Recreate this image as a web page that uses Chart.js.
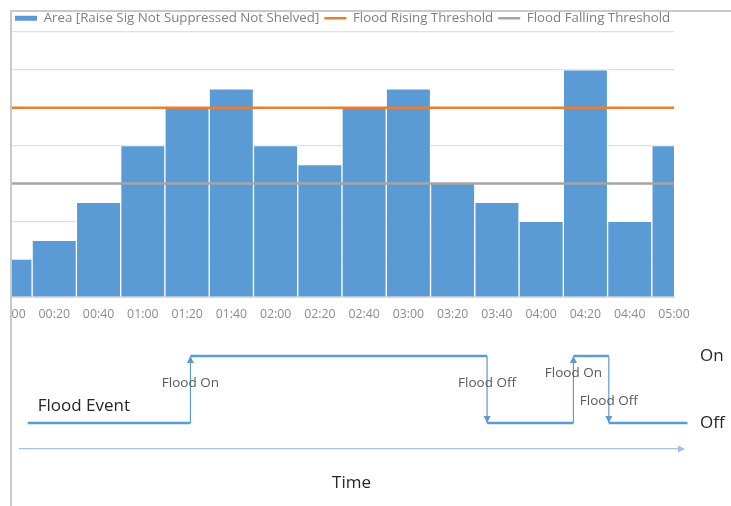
<!DOCTYPE html>
<html lang="en">
<head>
<meta charset="UTF-8">
<title>Flood event</title>
<script src="https://cdn.jsdelivr.net/npm/chart.js"></script>
<style>
  *{margin:0;padding:0;box-sizing:border-box;}
  html,body{width:731px;height:506px;overflow:hidden;background:#fff;}
  #topBox{position:absolute;left:0;top:0;width:731px;height:330px;}
  #bottomBox{position:absolute;left:0;top:330px;width:731px;height:176px;}
  /* grey frame round the picture, white outside it */
  .frame{position:absolute;left:10px;top:10px;width:800px;height:600px;border-top:2px solid #c9c9c9;border-left:2px solid #c9c9c9;box-shadow:0 0 0 24px #fff;pointer-events:none;}
</style>
</head>
<body>
<div id="topBox"><canvas id="areaChart"></canvas></div>
<div id="bottomBox"><canvas id="eventChart"></canvas></div>
<div class="frame"></div>

<script>
// ---- data ----
const timeLabels = ['00:00','00:20','00:40','01:00','01:20','01:40','02:00','02:20',
                    '02:40','03:00','03:20','03:40','04:00','04:20','04:40','05:00'];
const areaValues = [1, 1.5, 2.5, 4, 5, 5.5, 4, 3.5, 5, 5.5, 3, 2.5, 2, 6, 2, 4];
const risingThreshold = 5;
const fallingThreshold = 3;

// flood event timeline, minutes from 00:00
const eventStart = 8;
const eventEnd = 306;
const floodOnAt = [81.5, 254.5];
const floodOffAt = [215.5, 270.5];
const onLabelLevel = [0.6, 0.75];
const offLabelLevel = [0.6, 0.33];
const eventLabelAt = [12.5, 0.25];

const BLUE = '#5b9bd5', ORANGE = '#ed7d31', GREY = '#a5a5a5';
Chart.defaults.font.family = "'Open Sans', sans-serif";

// fixed legend height so the plot top sits where it should
const legendHeight = {
  id: 'legendHeight',
  beforeInit(chart) {
    const fit = chart.legend.fit;
    chart.legend.fit = function () { fit.call(this); this.height = 25.5; };
  }
};

new Chart(document.getElementById('areaChart'), {
  data: {
    labels: timeLabels,
    datasets: [
      {type: 'bar', label: 'Area [Raise Sig Not Suppressed Not Shelved]', data: areaValues,
       backgroundColor: BLUE, borderColor: 'rgba(255,255,255,0.75)', borderWidth: 1,
       barPercentage: 1, categoryPercentage: 1, order: 1},
      {type: 'line', label: 'Flood Rising Threshold', data: timeLabels.map(() => risingThreshold),
       borderColor: ORANGE, backgroundColor: ORANGE, borderWidth: 2.5, pointRadius: 0, order: 0},
      {type: 'line', label: 'Flood Falling Threshold', data: timeLabels.map(() => fallingThreshold),
       borderColor: GREY, backgroundColor: GREY, borderWidth: 2.5, pointRadius: 0, order: 0}
    ]
  },
  options: {
    responsive: true, maintainAspectRatio: false, animation: false, events: [],
    layout: {padding: {left: 10, right: 0, top: 6.5, bottom: 0}},
    plugins: {
      tooltip: {enabled: false},
      legend: {
        position: 'top', align: 'start',
        labels: {
          color: '#7f7f7f', font: {size: 13.3}, padding: 5,
          usePointStyle: true, pointStyleWidth: 22, boxHeight: 5,
          sort: (a, b) => a.datasetIndex - b.datasetIndex,
          generateLabels(chart) {
            const items = Chart.defaults.plugins.legend.labels.generateLabels(chart);
            items.forEach(it => {
              const ds = chart.data.datasets[it.datasetIndex];
              if (ds.type === 'bar') {
                it.pointStyle = 'rect'; it.lineWidth = 0; it.strokeStyle = ds.backgroundColor;
              } else {
                it.pointStyle = 'line'; it.lineWidth = 2.5; it.strokeStyle = ds.borderColor;
              }
            });
            return items;
          }
        }
      }
    },
    scales: {
      x: {
        offset: false,
        grid: {display: false, drawTicks: false},
        border: {color: '#d9d9d9'},
        ticks: {color: '#8c8c8c', font: {size: 12.3}, padding: 10, maxRotation: 0, autoSkip: false},
        // plot ends at 05:00, leaving the right margin empty
        afterFit(s) { s.paddingLeft = 0; s.paddingRight = 57; s.height = 33; }
      },
      y: {
        min: 0, max: 7,
        ticks: {display: false, stepSize: 1},
        grid: {color: '#e0e0e0', lineWidth: 1.2, drawTicks: false},
        border: {display: false}
      }
    }
  },
  plugins: [legendHeight]
});

// ---- flood event timeline ----
const stepPoints = [{x: eventStart, y: 0}];
floodOnAt.forEach((t, i) => {
  stepPoints.push({x: t, y: 0}, {x: t, y: 1}, {x: floodOffAt[i], y: 1}, {x: floodOffAt[i], y: 0});
});
stepPoints.push({x: eventEnd, y: 0});

function arrowHead(ctx, x, y, dir) {
  ctx.beginPath();
  if (dir === 'up') { ctx.moveTo(x, y); ctx.lineTo(x - 3.5, y + 7); ctx.lineTo(x + 3.5, y + 7); }
  else if (dir === 'down') { ctx.moveTo(x, y); ctx.lineTo(x - 3.5, y - 7); ctx.lineTo(x + 3.5, y - 7); }
  else { ctx.moveTo(x + 2, y); ctx.lineTo(x - 5, y - 3.5); ctx.lineTo(x - 5, y + 3.5); }
  ctx.closePath();
  ctx.fill();
}

const eventMarks = {
  id: 'eventMarks',
  afterDatasetsDraw(chart) {
    const {ctx, chartArea, scales: {x, y}} = chart;
    ctx.save();
    ctx.fillStyle = BLUE;
    floodOnAt.forEach(t => arrowHead(ctx, x.getPixelForValue(t), y.getPixelForValue(1), 'up'));
    floodOffAt.forEach(t => arrowHead(ctx, x.getPixelForValue(t), y.getPixelForValue(0), 'down'));
    ctx.fillStyle = '#9dc3e6';
    arrowHead(ctx, chartArea.right, chartArea.bottom, 'right');

    ctx.textAlign = 'center';
    ctx.textBaseline = 'middle';
    ctx.fillStyle = '#595959';
    ctx.font = "13.5px 'Open Sans', sans-serif";
    floodOnAt.forEach((t, i) => ctx.fillText('Flood On', x.getPixelForValue(t), y.getPixelForValue(onLabelLevel[i])));
    floodOffAt.forEach((t, i) => ctx.fillText('Flood Off', x.getPixelForValue(t), y.getPixelForValue(offLabelLevel[i])));

    ctx.textAlign = 'left';
    ctx.fillStyle = '#262626';
    ctx.font = "17px 'Open Sans', sans-serif";
    ctx.fillText('Flood Event', x.getPixelForValue(eventLabelAt[0]), y.getPixelForValue(eventLabelAt[1]));
    ctx.restore();
  }
};

new Chart(document.getElementById('eventChart'), {
  type: 'line',
  data: {
    datasets: [{
      label: 'Flood Event', data: stepPoints,
      borderColor: BLUE, borderWidth: 2.5, pointRadius: 0, clip: false,
      segment: {borderWidth: c => c.p0.parsed.x === c.p1.parsed.x ? 1.2 : 2.5}
    }]
  },
  options: {
    responsive: true, maintainAspectRatio: false, animation: false, events: [],
    layout: {padding: {left: 20, right: 0, top: 0, bottom: 12.6}},
    plugins: {legend: {display: false}, tooltip: {enabled: false}},
    scales: {
      x: {
        type: 'linear', min: 4.5, max: 304,
        ticks: {display: false},
        grid: {display: false, drawTicks: false},
        border: {color: '#9dc3e6', width: 1.3},
        title: {display: true, text: 'Time', color: '#262626', font: {size: 17}, padding: {top: 24, bottom: 0}}
      },
      y: {
        position: 'right', min: -0.388, max: 1.388,
        afterBuildTicks(s) { s.ticks = [{value: 0}, {value: 1}]; },
        ticks: {callback: v => (v === 1 ? 'On' : 'Off'), color: '#262626', font: {size: 17}, padding: 17},
        grid: {display: false, drawTicks: false},
        border: {display: false},
        afterFit(s) { s.width = 48; s.paddingTop = 0; s.paddingBottom = 0; }
      }
    }
  },
  plugins: [eventMarks]
});
</script>
</body>
</html>
